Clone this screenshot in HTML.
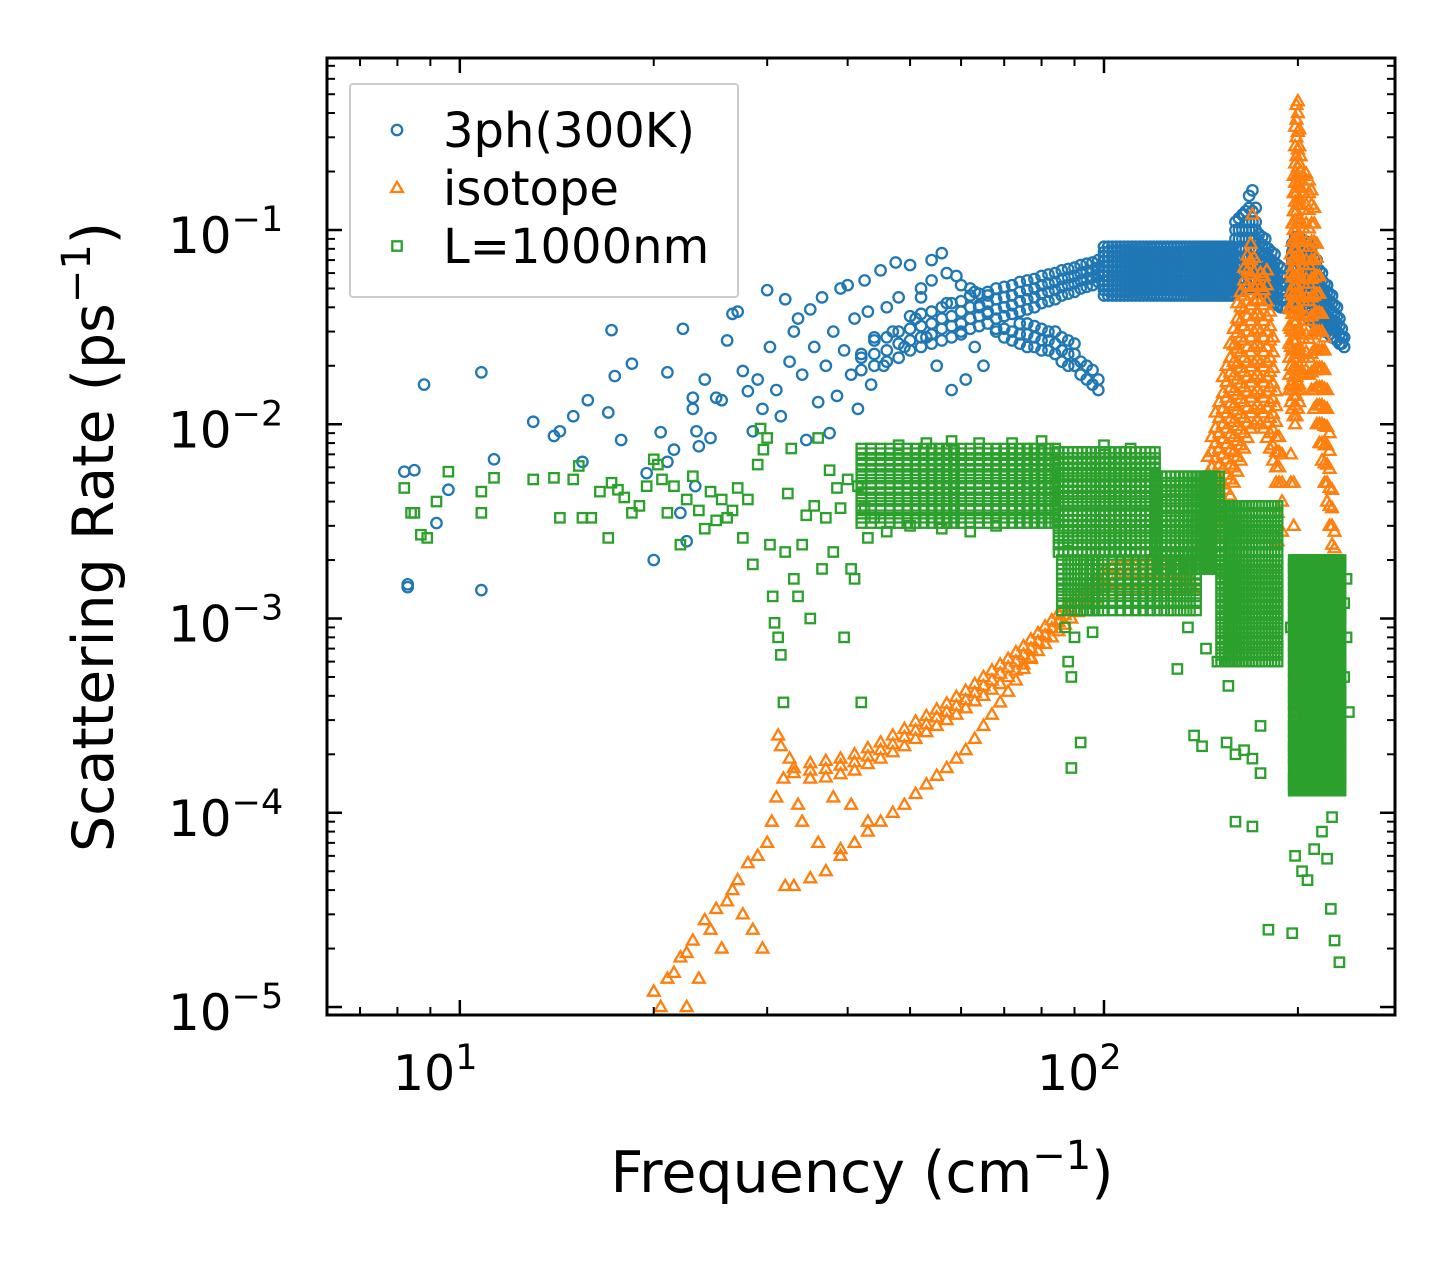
<!DOCTYPE html>
<html><head><meta charset="utf-8"><style>
html,body{margin:0;padding:0;background:#fff;}
svg{display:block;font-family:"DejaVu Sans","Liberation Sans",sans-serif;}
</style></head><body>
<svg id="chart" width="1455" height="1265" viewBox="0 0 1455 1265" xmlns="http://www.w3.org/2000/svg">
<rect width="1455" height="1265" fill="#fff"/>
<g id="marks"></g>
<g id="axes"></g>
</svg>
<script>
const xTickValues = [10, 100];
const xTickLabels = ["1", "2"];
const yTickValues = [1e-1, 1e-2, 1e-3, 1e-4, 1e-5];
const yTickLabels = ["\u22121", "\u22122", "\u22123", "\u22124", "\u22125"];
const seriesNames = ["3ph(300K)", "isotope", "L=1000nm"];

const bluePoints = [
[8.2,0.0057],[8.5,0.0058],[8.8,0.016],[9.2,0.0031],[9.6,0.0046],[8.3,0.0015],[8.3,0.00145],[10.8,0.0185],[10.8,0.0014],[11.3,0.0066],
[13,0.0103],[14,0.0087],[14.3,0.0092],[15,0.011],[15.5,0.0064],[15.8,0.0133],[17,0.0115],[17.2,0.0305],[17.4,0.0177],[17.8,0.0083],
[18.5,0.0205],[19.5,0.0056],[20,0.002],[20.5,0.0091],[21,0.0064],[21,0.0185],[21.5,0.0074],[22,0.0035],[22.2,0.031],[22.5,0.0025],
[23,0.0137],[23,0.012],[23.3,0.0092],[23.5,0.0077],[23.2,0.0048],[24,0.017],[24.5,0.0085],[25,0.0137],[25.5,0.0133],[26,0.027],
[26.5,0.037],[27,0.038],[27.5,0.0188],[28,0.0148],[28.5,0.0092],[29,0.017],[29.5,0.012],[30,0.049],[30.3,0.025],[31,0.015],
[31.5,0.011],[32,0.044],[32.5,0.021],[33,0.03],[33.5,0.035],[34,0.018],[34.5,0.0083],[35,0.039],[35.5,0.025],[36,0.013],
[36.5,0.045],[37,0.02],[37.5,0.009],[38,0.03],[38.5,0.014],[39,0.05],[39.5,0.024],[40,0.052],[40.5,0.018],[41,0.035],
[41.5,0.012],[42,0.023],[42.5,0.055],[43,0.038],[43.5,0.016],[44,0.028],[45,0.062],[45.5,0.02],[46,0.04],[47,0.03],
[47.5,0.068],[48,0.045],[49,0.025],[50,0.066],[51,0.035],[52,0.05],[53,0.028],[54,0.07],[55,0.02],[56,0.076],[57,0.042],
[58,0.015],[59,0.058],[60,0.03],[61,0.017],[62,0.05],[63,0.025],[64,0.04],[65,0.02],[66,0.046],[68,0.03],[70,0.036],
[52,0.045],[54,0.055],[57,0.06],[60,0.052],[63,0.048],[66,0.038],[168,0.15],[170,0.16],[165,0.12],[172,0.13]
];
// dense 3ph columns: [frequency, rate, rate, ...]
const blueColumns = [
[42,0.019,0.022],[44,0.02,0.023,0.027],[46,0.021,0.024,0.028],[48,0.022,0.026,0.03],[50,0.024,0.027,0.031,0.036],
[52,0.025,0.028,0.032,0.037],[54,0.026,0.029,0.033,0.038],[56,0.027,0.031,0.035,0.04],[58,0.028,0.032,0.036,0.042],
[60,0.029,0.033,0.038,0.043],[62,0.031,0.035,0.04,0.046],[64,0.032,0.036,0.041,0.047],[66,0.033,0.037,0.042,0.048],
[68,0.035,0.039,0.044,0.05,0.031],[70,0.036,0.04,0.045,0.051,0.031,0.028],[72,0.037,0.041,0.046,0.052,0.03,0.027],
[74,0.038,0.043,0.048,0.054,0.029,0.026,0.033],[76,0.039,0.044,0.049,0.055,0.029,0.025,0.033],[78,0.04,0.045,0.05,0.056,0.028,0.025,0.032],
[80,0.042,0.047,0.052,0.058,0.027,0.024,0.031],[82,0.043,0.048,0.053,0.059,0.027,0.024,0.03],[84,0.044,0.049,0.054,0.06,0.026,0.023,0.03],
[86,0.046,0.051,0.056,0.062,0.024,0.021,0.028],[88,0.047,0.052,0.057,0.063,0.023,0.02,0.027],[90,0.048,0.053,0.058,0.064,0.023,0.02,0.026],
[92,0.05,0.055,0.06,0.066,0.021,0.018],[94,0.051,0.056,0.061,0.067,0.02,0.017],[96,0.052,0.057,0.062,0.068,0.019,0.016],
[98,0.054,0.059,0.064,0.07,0.017,0.015],
[160,0.05,0.055,0.06,0.066,0.072,0.08,0.09,0.1,0.11],[162,0.05,0.055,0.06,0.066,0.072,0.08,0.09,0.1,0.115],
[164,0.05,0.055,0.06,0.066,0.072,0.08,0.09,0.1,0.12],[166,0.05,0.055,0.06,0.066,0.072,0.08,0.09,0.1,0.11,0.125],
[168,0.05,0.055,0.06,0.066,0.072,0.08,0.09,0.1,0.11,0.13],[170,0.05,0.055,0.06,0.066,0.072,0.08,0.09,0.1,0.11,0.125],
[172,0.05,0.055,0.06,0.066,0.072,0.08,0.09,0.1,0.11],[174,0.048,0.053,0.058,0.064,0.07,0.078,0.086,0.095],
[176,0.047,0.052,0.057,0.063,0.069,0.076,0.084,0.092],[178,0.046,0.05,0.055,0.061,0.067,0.074,0.082,0.09],
[180,0.045,0.049,0.054,0.06,0.066,0.072,0.08],[182,0.044,0.048,0.053,0.058,0.064,0.07,0.077],
[184,0.042,0.046,0.051,0.056,0.062,0.068,0.075],[186,0.041,0.045,0.05,0.055,0.06,0.066],
[188,0.04,0.044,0.048,0.053,0.058,0.064],[190,0.04,0.044,0.048,0.052,0.057],[192,0.04,0.044,0.048,0.052],
[196,0.04,0.044,0.048,0.053,0.058,0.064,0.07,0.077,0.085],[198,0.04,0.044,0.048,0.053,0.058,0.064,0.07,0.077,0.085,0.092],
[200,0.039,0.043,0.047,0.052,0.057,0.063,0.069,0.076,0.083,0.092],[202,0.038,0.042,0.046,0.051,0.056,0.062,0.068,0.075,0.082,0.09],
[204,0.037,0.041,0.045,0.05,0.055,0.061,0.067,0.074,0.081,0.088],[206,0.036,0.04,0.044,0.049,0.054,0.06,0.066,0.072,0.08,0.087],
[208,0.035,0.039,0.043,0.048,0.053,0.058,0.064,0.07,0.077,0.085],[210,0.034,0.038,0.042,0.047,0.052,0.057,0.062,0.068,0.075,0.082],
[212,0.033,0.037,0.041,0.045,0.05,0.055,0.06,0.066,0.072],[214,0.032,0.036,0.04,0.044,0.048,0.053,0.058,0.064,0.07],
[216,0.032,0.035,0.039,0.043,0.047,0.052,0.057,0.062],[218,0.031,0.034,0.038,0.042,0.046,0.05,0.055,0.06],
[220,0.03,0.033,0.037,0.041,0.045,0.049,0.053],[222,0.03,0.033,0.036,0.04,0.044,0.048,0.052],
[224,0.029,0.032,0.035,0.039,0.043,0.047],[226,0.028,0.031,0.034,0.038,0.042,0.046],[228,0.028,0.031,0.034,0.037,0.041],
[230,0.027,0.03,0.033,0.036,0.04],[232,0.026,0.029,0.032,0.035],[234,0.026,0.028,0.031],[236,0.025,0.028]
];
// dense 3ph band 100-158 cm^-1 read as a grid of frequencies x rates
const blueBandFreqs = [100,101.5,103,104.5,106,107.5,109,110.5,112,113.5,115,116.5,118,119.5,121,122.5,124,125.5,127,128.5,130,131.5,133,134.5,136,137.5,139,140.5,142,143.5,145,146.5,148,149.5,151,152.5,154,155.5,157,158.5];
const blueBandRates = [0.046,0.049,0.052,0.055,0.058,0.061,0.065,0.069,0.073,0.077,0.082];

const orangePoints = [
[20,1.2e-5],[20.5,1e-5],[21,1.4e-5],[21.5,1.5e-5],[22,1.8e-5],[22.5,1.9e-5],[22.5,1e-5],[23,2.2e-5],[23.5,1.4e-5],[24,2.8e-5],
[24.5,2.5e-5],[25,3.2e-5],[25.5,2e-5],[26,3.5e-5],[26.5,4e-5],[27,4.5e-5],[27.5,3e-5],[28,5.5e-5],[28.5,2.5e-5],[29,6e-5],
[29.5,2e-5],[30,7e-5],[30.5,9e-5],[31,1.2e-4],[31.2,2.5e-4],[31.5,2.2e-4],[31.8,1.5e-4],[32,4.2e-5],[32.5,1.9e-4],[33,1.7e-4],
[33.5,1.1e-4],[34,9e-5],[36,7e-5],[38,1.2e-4],[39,6.5e-5],[40.5,1.1e-4],[43,9e-5],[170,0.12],[138,1.4e-3]
];
// dense isotope columns: [frequency, rate, rate, ...]
const orangeColumns = [
[33,1.6e-4,4.2e-5],[35,1.5e-4,1.65e-4,1.8e-4,4.6e-5],[37,1.52e-4,1.68e-4,1.85e-4,5e-5],[39,1.58e-4,1.75e-4,1.9e-4,6e-5],[41,1.65e-4,1.82e-4,2e-4,7e-5],
[43,1.78e-4,1.95e-4,2.15e-4,8e-5],[45,1.9e-4,2.1e-4,2.3e-4,9e-5],[47,2.05e-4,2.25e-4,2.5e-4,1e-4],[49,2.2e-4,2.45e-4,2.7e-4,1.1e-4],
[51,2.4e-4,2.65e-4,2.95e-4,1.25e-4],[53,2.6e-4,2.85e-4,3.15e-4,1.4e-4],[55,2.8e-4,3.1e-4,3.4e-4,1.55e-4],[57,3e-4,3.3e-4,3.65e-4,1.7e-4],
[59,3.2e-4,3.55e-4,3.95e-4,1.9e-4],[61,3.45e-4,3.8e-4,4.25e-4,2.1e-4],[63,3.75e-4,4.15e-4,4.6e-4,2.4e-4],[65,4e-4,4.5e-4,5e-4,2.8e-4],
[67,4.3e-4,4.8e-4,5.4e-4,3.2e-4],[69,4.6e-4,5.2e-4,5.8e-4,3.7e-4],[71,5e-4,5.6e-4,6.2e-4,4.2e-4],[73,5.4e-4,6e-4,6.7e-4,4.8e-4],
[75,5.8e-4,6.5e-4,7.2e-4,5.5e-4],[77,6.3e-4,7e-4,7.8e-4,6.2e-4],[79,6.8e-4,7.6e-4,8.4e-4],[81,7.4e-4,8.2e-4,9.1e-4],[83,8e-4,8.9e-4,9.8e-4],
[85,8.6e-4,9.6e-4,1.06e-3],[87,9.3e-4,1.04e-3,1.14e-3],[89,1e-3,1.1e-3,1.22e-3],[91,1.08e-3,1.2e-3,1.32e-3],[94,1.18e-3,1.3e-3,1.43e-3],
[97,1.27e-3,1.4e-3,1.53e-3],[100,1.33e-3,1.47e-3,1.62e-3,1.78e-3],[103,1.38e-3,1.52e-3,1.67e-3,1.83e-3],[106,1.4e-3,1.54e-3,1.7e-3,1.86e-3],
[109,1.4e-3,1.54e-3,1.7e-3,1.86e-3],[112,1.4e-3,1.54e-3,1.7e-3,1.88e-3],[115,1.4e-3,1.54e-3,1.7e-3,1.88e-3],[118,1.4e-3,1.54e-3,1.7e-3,1.88e-3],
[121,1.4e-3,1.54e-3,1.7e-3,1.88e-3],[124,1.4e-3,1.55e-3,1.72e-3,1.9e-3],[127,1.4e-3,1.55e-3,1.72e-3,1.9e-3],[130,1.4e-3,1.55e-3,1.72e-3,1.9e-3],
[133,1.42e-3,1.57e-3,1.74e-3,1.92e-3],[136,1.45e-3,1.6e-3,1.77e-3,1.95e-3],
[141,2e-3,2.4e-3,2.9e-3,3.4e-3],[143,2.1e-3,2.5e-3,3e-3,3.6e-3,4.4e-3,5.3e-3],[145,2.2e-3,2.7e-3,3.2e-3,3.9e-3,4.7e-3,5.6e-3,6.8e-3],
[147,2.4e-3,2.9e-3,3.5e-3,4.2e-3,5e-3,6e-3,7.2e-3,8.6e-3],[149,2.7e-3,3.2e-3,3.9e-3,4.7e-3,5.6e-3,6.7e-3,8e-3,9.6e-3,1.15e-2],
[151,3e-3,3.6e-3,4.3e-3,5.2e-3,6.2e-3,7.5e-3,9e-3,1.08e-2,1.3e-2],[153,3.4e-3,4.1e-3,4.9e-3,5.9e-3,7e-3,8.4e-3,1e-2,1.2e-2,1.45e-2,1.75e-2],
[155,3.8e-3,4.6e-3,5.5e-3,6.6e-3,7.9e-3,9.5e-3,1.14e-2,1.37e-2,1.65e-2,2e-2],[157,4.3e-3,5.2e-3,6.2e-3,7.4e-3,8.9e-3,1.07e-2,1.28e-2,1.54e-2,1.85e-2,2.2e-2,2.6e-2],
[159,5e-3,6e-3,7.2e-3,8.6e-3,1.03e-2,1.24e-2,1.48e-2,1.78e-2,2.1e-2,2.55e-2,3.1e-2],[161,5.7e-3,6.8e-3,8.2e-3,9.8e-3,1.18e-2,1.42e-2,1.7e-2,2.05e-2,2.45e-2,2.95e-2,3.5e-2,4.2e-2],
[163,6.5e-3,7.8e-3,9.4e-3,1.13e-2,1.35e-2,1.62e-2,1.95e-2,2.35e-2,2.8e-2,3.4e-2,4e-2,4.8e-2],[165,7.5e-3,9e-3,1.08e-2,1.3e-2,1.55e-2,1.86e-2,2.2e-2,2.7e-2,3.2e-2,3.9e-2,4.6e-2,5.5e-2,6.4e-2],
[167,8.5e-3,1.02e-2,1.22e-2,1.47e-2,1.76e-2,2.1e-2,2.5e-2,3e-2,3.6e-2,4.3e-2,5.2e-2,6.2e-2,7.4e-2],[169,9.5e-3,1.14e-2,1.37e-2,1.64e-2,1.97e-2,2.35e-2,2.8e-2,3.4e-2,4.1e-2,4.9e-2,5.9e-2,7e-2,8.5e-2],
[171,1e-2,1.2e-2,1.44e-2,1.73e-2,2.07e-2,2.5e-2,3e-2,3.6e-2,4.3e-2,5.1e-2,6.1e-2,7.2e-2],[173,1.05e-2,1.26e-2,1.5e-2,1.8e-2,2.15e-2,2.6e-2,3.1e-2,3.7e-2,4.4e-2,5.2e-2],
[175,1e-2,1.2e-2,1.44e-2,1.73e-2,2.07e-2,2.5e-2,3e-2,3.6e-2,4.3e-2,5.1e-2,6e-2],[177,9.5e-3,1.14e-2,1.37e-2,1.64e-2,1.97e-2,2.35e-2,2.8e-2,3.4e-2,4.1e-2,4.9e-2,5.8e-2],
[179,8.5e-3,1.02e-2,1.22e-2,1.47e-2,1.76e-2,2.1e-2,2.5e-2,3e-2,3.6e-2,4.3e-2,5.2e-2,6.2e-2],[181,7.5e-3,9e-3,1.08e-2,1.3e-2,1.55e-2,1.86e-2,2.2e-2,2.7e-2,3.2e-2,3.8e-2],
[183,6.5e-3,7.8e-3,9.4e-3,1.13e-2,1.35e-2,1.62e-2,1.95e-2,2.35e-2,2.8e-2],[185,5e-3,6e-3,7.2e-3,8.6e-3,1.03e-2,1.24e-2,1.48e-2],
[187,5e-3,6e-3,7.2e-3,8.6e-3],[189,5e-3,7e-3],
[194,1.5e-2,1.8e-2,2.2e-2,2.6e-2,3.2e-2,4e-2],[195,1.3e-2,1.6e-2,2e-2,2.5e-2,3.1e-2,3.9e-2,4.8e-2,6e-2,7.5e-2],
[196,1.2e-2,1.5e-2,1.9e-2,2.4e-2,3e-2,3.7e-2,4.6e-2,5.7e-2,7e-2,8.7e-2,1.08e-1],
[197,1.1e-2,1.4e-2,1.75e-2,2.2e-2,2.7e-2,3.4e-2,4.2e-2,5.2e-2,6.5e-2,8e-2,1e-1,1.25e-1,1.55e-1,1.9e-1],
[198,1e-2,1.25e-2,1.55e-2,1.95e-2,2.4e-2,3e-2,3.75e-2,4.7e-2,5.8e-2,7.2e-2,9e-2,1.12e-1,1.4e-1,1.75e-1,2.2e-1,2.7e-1,3.4e-1],
[199,1.1e-2,1.4e-2,1.75e-2,2.2e-2,2.7e-2,3.4e-2,4.2e-2,5.2e-2,6.5e-2,8e-2,1e-1,1.25e-1,1.55e-1,1.9e-1,2.4e-1,3e-1,3.7e-1,4.4e-1],
[200,1.2e-2,1.5e-2,1.9e-2,2.4e-2,3e-2,3.7e-2,4.6e-2,5.7e-2,7e-2,8.7e-2,1.08e-1,1.35e-1,1.7e-1,2.1e-1,2.6e-1,3.2e-1,4e-1,4.6e-1],
[201,1.3e-2,1.6e-2,2e-2,2.5e-2,3.1e-2,3.9e-2,4.8e-2,6e-2,7.5e-2,9.3e-2,1.15e-1,1.45e-1,1.8e-1,2.2e-1,2.7e-1,3.3e-1],
[202,1.5e-2,1.85e-2,2.3e-2,2.9e-2,3.6e-2,4.5e-2,5.6e-2,7e-2,8.7e-2,1.08e-1,1.35e-1,1.65e-1,2e-1,2.4e-1],
[204,1.8e-2,2.2e-2,2.75e-2,3.4e-2,4.3e-2,5.3e-2,6.6e-2,8.2e-2,1.02e-1,1.27e-1,1.55e-1,1.9e-1],
[206,1.9e-2,2.35e-2,2.9e-2,3.6e-2,4.5e-2,5.6e-2,7e-2,8.7e-2,1.08e-1,1.35e-1,1.65e-1,1.95e-1],
[208,1.8e-2,2.2e-2,2.75e-2,3.4e-2,4.3e-2,5.3e-2,6.6e-2,8.2e-2,1.02e-1,1.27e-1,1.55e-1,1.8e-1],
[210,1.5e-2,1.85e-2,2.3e-2,2.9e-2,3.6e-2,4.5e-2,5.6e-2,7e-2,8.7e-2,1.08e-1,1.35e-1,1.6e-1],
[212,1.2e-2,1.5e-2,1.9e-2,2.4e-2,3e-2,3.7e-2,4.6e-2,5.7e-2,7e-2,8.7e-2,1.08e-1,1.3e-1],
[214,1e-2,1.25e-2,1.55e-2,1.95e-2,2.4e-2,3e-2,3.75e-2,4.7e-2,5.8e-2,7.2e-2,8.5e-2],
[216,8e-3,1e-2,1.25e-2,1.55e-2,1.95e-2,2.4e-2,3e-2,3.75e-2,4.7e-2,5.8e-2],
[218,6.5e-3,8e-3,1e-2,1.25e-2,1.55e-2,1.95e-2,2.4e-2,3e-2,3.7e-2],
[220,5e-3,6.3e-3,7.8e-3,9.8e-3,1.22e-2,1.52e-2,1.9e-2,2.4e-2,2.8e-2],
[222,4e-3,5e-3,6.2e-3,7.8e-3,9.7e-3,1.2e-2,1.5e-2],[224,3e-3,3.8e-3,4.7e-3,5.9e-3,7.3e-3,9e-3],
[226,2.4e-3,3e-3,3.7e-3,4.6e-3],[228,2.3e-3,2.8e-3],[186,2.5e-3,3.5e-3],[189,2.8e-3,4e-3],[195,5e-3,7e-3],[197,3e-3,5e-3]
];

const greenPoints = [
[8.2,0.0047],[8.4,0.0035],[8.5,0.0035],[8.7,0.0027],[8.9,0.0026],[9.2,0.004],[9.6,0.0057],[10.8,0.0045],[10.8,0.0035],[11.3,0.0053],
[13,0.0052],[14,0.0053],[14.3,0.0033],[15,0.0052],[15.3,0.0061],[15.5,0.0033],[16,0.0033],[16.5,0.0045],[17,0.0026],[17.2,0.005],
[17.6,0.0046],[18,0.0042],[18.5,0.0035],[19,0.0038],[19.5,0.0048],[20,0.0066],[20.3,0.0062],[20.6,0.0052],[21,0.0035],[21.5,0.0048],
[22,0.0024],[22.5,0.0041],[23,0.0054],[23.5,0.0036],[24,0.0029],[24.5,0.0045],[25,0.0032],[25.5,0.0041],[26,0.0033],[26.5,0.0036],
[27,0.0047],[27.5,0.0026],[28,0.0041],[28.5,0.0019],[29,0.0062],[29.3,0.0095],[29.6,0.0074],[30,0.0085],[30.3,0.0024],[30.6,0.0013],
[30.8,0.00095],[31.2,0.0008],[31.5,0.00065],[31.8,0.00037],[32,0.0022],[32.3,0.0044],[32.7,0.0075],[33,0.0016],[33.5,0.0013],[34,0.0024],
[34.5,0.0034],[35,0.001],[35.5,0.0038],[36,0.0085],[36.5,0.0018],[37,0.0033],[37.5,0.0058],[38,0.0022],[38.5,0.0047],[39,0.0037],
[39.5,0.0008],[40,0.0052],[40.5,0.0018],[41,0.0016],[41.5,0.0048],[42,0.00037],[42.5,0.0037],[43,0.0026],[43.5,0.0075],[44,0.0033],
[48,0.0078],[53,0.008],[58,0.0082],[64,0.008],[72,0.008],[80,0.0082],[88,0.0025],[100,0.0078],[110,0.0075],
[87,0.0009],[88,0.0006],[89,0.0005],[90,0.0008],[92,0.00023],[89,0.00017],[95,0.0011],[96,0.00085],
[130,0.00055],[135,0.0009],[138,0.00025],[142,0.00022],[144,0.0007],[156,0.00045],[150,0.0006],[155,0.00023],[160,0.0002],
[165,0.00021],[170,0.00019],[175,0.00028],[160,0.00009],[170,0.000085],[175,0.00016],
[200,0.00013],[198,0.00006],[203,0.00005],[207,0.000045],[212,0.000065],[218,0.00008],[222,0.000058],[225,0.000032],
[228,0.000022],[232,0.000017],[226,0.000095],[196,0.000024],[180,0.000025],[240,0.00033],[238,0.0016],
[46,0.0028],[50,0.003],[56,0.0029],[62,0.0028],[68,0.003],[236,0.0012],[238,0.0008],[236,0.0005],[195,0.0009]
];
// dense boundary-scattering blobs read as grids of frequencies x rates
const greenBlobAFreqs = [42,43.5,45,46.5,48,49.5,51,52.5,54,55.5,57,58.5,60,62,64,66,68,70,72,74,76,78,80,82,84];
const greenBlobARates = [0.0031,0.0033,0.0036,0.0038,0.0041,0.0044,0.0047,0.005,0.0054,0.0058,0.0062,0.0066,0.0071,0.0075];
const greenBlobBFreqs = [85,86.5,88,89.5,91,92.5,94,95.5,97,98.5,100,102,104,106,108,110,112,114,116,118,120];
const greenBlobBRates = [0.0022,0.0024,0.0026,0.0028,0.003,0.0032,0.0034,0.0036,0.0039,0.0042,0.0045,0.0048,0.0051,0.0055,0.0059,0.0063,0.0067,0.0072];
const greenBlobCFreqs = [86,88,90,92,94,96,98,100,103,106,109,112,115,118,121,124,127,130,133,136,139];
const greenBlobCRates = [0.0011,0.0012,0.0013,0.0014,0.0015,0.0016,0.0017,0.0018,0.0019,0.002];
const greenBlobB2Freqs = [121,123,125,127,129,131,133,135,137,139,141,143,145,147,149,151];
const greenBlobB2Rates = [0.0018,0.0019,0.0021,0.0022,0.0024,0.0026,0.0028,0.003,0.0032,0.0034,0.0037,0.004,0.0043,0.0046,0.005,0.0054];
const greenBlobDFreqs = [152,154,156,158,160,162,164,166,168,170,172,174,176,178,180,182,184,186];
const greenBlobDRates = [0.0006,0.00065,0.0007,0.00075,0.0008,0.00086,0.00093,0.001,0.00107,0.00115,0.00123,0.00132,0.00142,0.00152,0.00163,0.00175,0.00188,0.002,0.0022,0.0024,0.0026,0.0028,0.003,0.0032,0.0035,0.0038];
const greenBlobEFreqs = [197,198.5,200,201.5,203,204.5,206,207.5,209,210.5,212,213.5,215,216.5,218,219.5,221,222.5,224,225.5,227,228.5,230,231.5,233];
const greenBlobERates = [0.00013,0.00014,0.00015,0.00016,0.00018,0.00019,0.00021,0.00022,0.00024,0.00026,0.00028,0.0003,0.00033,0.00036,0.00039,0.00042,0.00045,0.00049,0.00053,0.00057,0.00062,0.00067,0.00072,0.00078,0.00084,0.00091,0.00098,0.00106,0.00114,0.00123,0.00133,0.00144,0.00155,0.00167,0.0018,0.0019,0.002];

const L=327,R=1395,T=58,B=1015;
const xMinLog=Math.log10(6.22),xMaxLog=Math.log10(283);
const yMinLog=-5.041,yMaxLog=-0.1146;
function xScale(v){return L+(Math.log10(v)-xMinLog)/(xMaxLog-xMinLog)*(R-L);}
function yScale(v){return B-(Math.log10(v)-yMinLog)/(yMaxLog-yMinLog)*(B-T);}
const NS="http://www.w3.org/2000/svg";
function mk(tag,attrs,parent){const e=document.createElementNS(NS,tag);for(const k in attrs)e.setAttribute(k,attrs[k]);parent.appendChild(e);return e;}
const marks=document.getElementById('marks');
const axes=document.getElementById('axes');
const colors=["#1f77b4","#ff7f0e","#2ca02c"];

function circle(g,cx,cy){return mk('circle',{cx:cx,cy:cy,r:5.2,fill:'none',stroke:colors[0],'stroke-width':2.3},g);}
function tri(g,cx,cy){const s=6.2;return mk('polygon',{points:`${cx},${cy-s} ${cx-s*0.95},${cy+s*0.65} ${cx+s*0.95},${cy+s*0.65}`,fill:'none',stroke:colors[1],'stroke-width':2.3},g);}
function sq(g,cx,cy){const s=4.7;return mk('rect',{x:cx-s,y:cy-s,width:2*s,height:2*s,fill:'none',stroke:colors[2],'stroke-width':2.3},g);}

const clipDef=mk('defs',{},marks);
const cp=mk('clipPath',{id:'clip'},clipDef);
mk('rect',{x:L,y:T,width:R-L,height:B-T},cp);

function drawSeries(points,columns,grids,fn,gname,pname){
  const g=mk('g',{'clip-path':'url(#clip)'},marks);
  
  
  function put(f,r){const e=fn(g,xScale(f),yScale(r));
    
    }
  grids.forEach(gr=>{gr[0].forEach(f=>gr[1].forEach(r=>put(f,r)));});
  columns.forEach(c=>{for(let i=1;i<c.length;i++)put(c[0],c[i]);});
  points.forEach(p=>put(p[0],p[1]));
}
drawSeries(bluePoints,blueColumns,[[blueBandFreqs,blueBandRates]],circle,'series-3ph','point-3ph');
drawSeries(orangePoints,orangeColumns,[],tri,'series-isotope','point-isotope');
drawSeries(greenPoints,[],[[greenBlobAFreqs,greenBlobARates],[greenBlobBFreqs,greenBlobBRates],[greenBlobCFreqs,greenBlobCRates],[greenBlobB2Freqs,greenBlobB2Rates],[greenBlobDFreqs,greenBlobDRates],[greenBlobEFreqs,greenBlobERates]],sq,'series-boundary','point-boundary');

const frame=mk('rect',{x:L,y:T,width:R-L,height:B-T,fill:'none',stroke:'#000','stroke-width':3},axes);



for(let d=0;d<=2;d++){for(let m=1;m<=9;m++){const v=m*Math.pow(10,d);const x=xScale(v);if(x<L||x>R)continue;const len=m===1?15:8;const w=m===1?2.5:2;
mk('line',{x1:x,y1:B,x2:x,y2:B-len,stroke:'#000','stroke-width':w},axes);
mk('line',{x1:x,y1:T,x2:x,y2:T+len,stroke:'#000','stroke-width':w},axes);}}
xTickValues.forEach((v,i)=>{const t=mk('text',{x:xScale(v)-67,y:1090,'text-anchor':'start','font-size':49,fill:'#000'},axes);


t.innerHTML=`10<tspan dy="-21" font-size="35">${xTickLabels[i]}</tspan>`;});

for(let d=-6;d<=0;d++){for(let m=1;m<=9;m++){const v=m*Math.pow(10,d);const y=yScale(v);if(y<T||y>B)continue;const len=m===1?15:8;const w=m===1?2.5:2;
mk('line',{x1:L,y1:y,x2:L+len,y2:y,stroke:'#000','stroke-width':w},axes);
mk('line',{x1:R,y1:y,x2:R-len,y2:y,stroke:'#000','stroke-width':w},axes);}}
yTickValues.forEach((v,i)=>{const t=mk('text',{x:168,y:yScale(v)+23,'text-anchor':'start','font-size':50,fill:'#000'},axes);


t.innerHTML=`10<tspan dy="-22" font-size="35">${yTickLabels[i]}</tspan>`;});

const xt=mk('text',{x:862,y:1192,'text-anchor':'middle','font-size':57,fill:'#000'},axes);


xt.innerHTML='Frequency (cm<tspan dy="-23" font-size="40">\u22121</tspan><tspan dy="23">)</tspan>';
const yt=mk('text',{x:0,y:0,'text-anchor':'middle','font-size':57,fill:'#000',transform:'translate(113,537) rotate(-90)'},axes);


yt.innerHTML='Scattering Rate (ps<tspan dy="-23" font-size="40">\u22121</tspan><tspan dy="23">)</tspan>';

const lg=mk('g',{},axes);


mk('rect',{x:350,y:84,width:388,height:213,fill:'#fff','fill-opacity':0.8,stroke:'#ccc','stroke-width':2,rx:3},lg);
const fns=[circle,tri,sq];
seriesNames.forEach((n,i)=>{const y=130+i*58;
const m=fns[i](lg,397,y);


const t=mk('text',{x:443,y:y+17,'font-size':48,fill:'#000'},lg);


t.textContent=n;});
</script>
</body></html>
